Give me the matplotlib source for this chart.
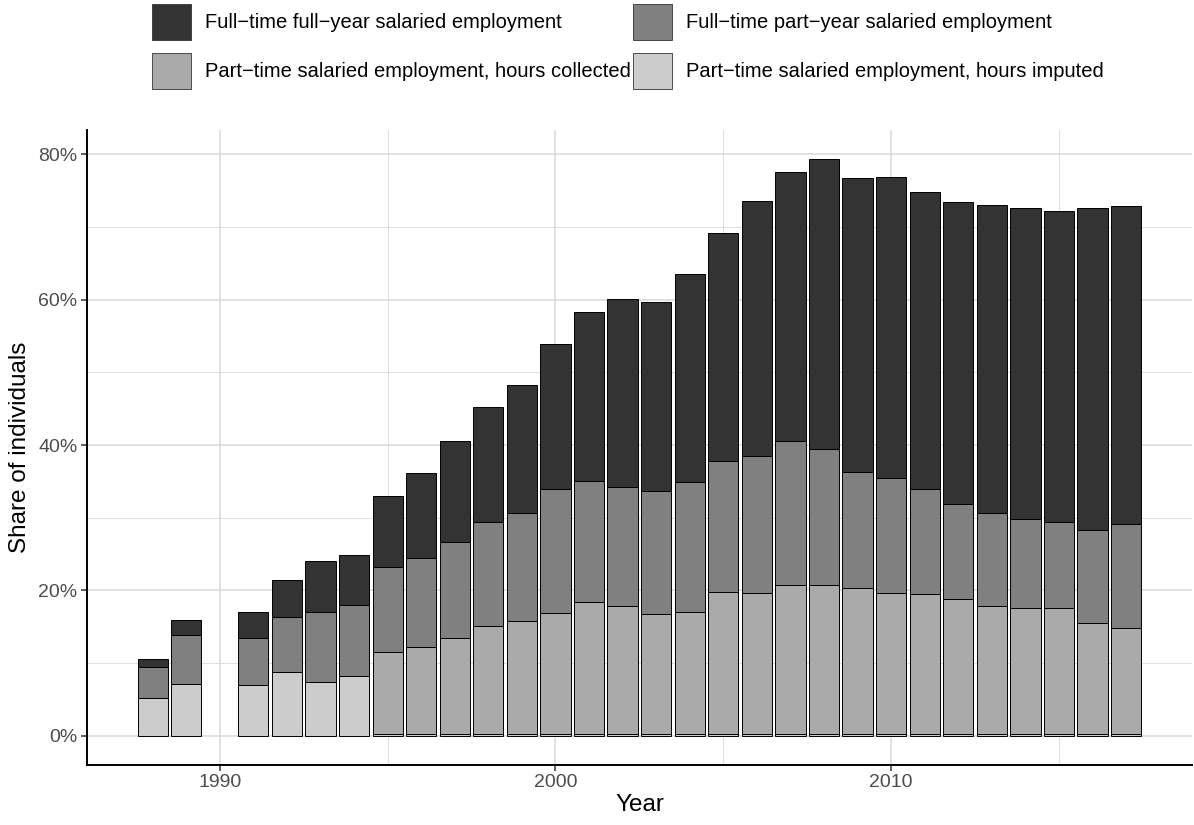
import matplotlib.pyplot as plt
import matplotlib.patches as mpatches
import numpy as np
from matplotlib.ticker import FixedLocator, PercentFormatter

plt.rcParams["font.family"] = ["Liberation Sans", "DejaVu Sans"]

years = [1988, 1989, 1991, 1992, 1993, 1994, 1995, 1996, 1997, 1998,
         1999, 2000, 2001, 2002, 2003, 2004, 2005, 2006, 2007, 2008,
         2009, 2010, 2011, 2012, 2013, 2014, 2015, 2016, 2017]

# shares (%) per layer
pt_imputed = [5.2, 7.1, 7.0, 8.8, 7.4, 8.3, 0.2, 0.2, 0.2, 0.2,
              0.2, 0.2, 0.2, 0.2, 0.2, 0.2, 0.2, 0.2, 0.2, 0.2,
              0.2, 0.2, 0.2, 0.2, 0.2, 0.2, 0.2, 0.2, 0.2]
pt_collected = [0.0, 0.0, 0.0, 0.0, 0.0, 0.0, 11.4, 12.0, 13.3, 14.9,
                15.6, 16.7, 18.2, 17.6, 16.5, 16.9, 19.6, 19.5, 20.5, 20.6,
                20.1, 19.5, 19.3, 18.6, 17.6, 17.4, 17.4, 15.3, 14.6]
ft_part_year = [4.3, 6.8, 6.5, 7.5, 9.6, 9.7, 11.6, 12.3, 13.2, 14.3,
                14.8, 17.1, 16.7, 16.5, 17.0, 17.8, 18.0, 18.8, 19.8, 18.7,
                16.0, 15.8, 14.5, 13.1, 12.8, 12.3, 11.8, 12.8, 14.3]
ft_full_year = [1.1, 2.1, 3.6, 5.1, 7.1, 6.9, 9.8, 11.6, 13.9, 15.8,
                17.6, 19.9, 23.2, 25.8, 26.0, 28.6, 31.3, 35.1, 37.1, 39.9,
                40.5, 41.4, 40.8, 41.5, 42.4, 42.7, 42.8, 44.3, 43.8]

labels = ["Part\u2212time salaried employment, hours imputed",
          "Part\u2212time salaried employment, hours collected",
          "Full\u2212time part\u2212year salaried employment",
          "Full\u2212time full\u2212year salaried employment"]
colors = ["#cccccc", "#aaaaaa", "#808080", "#333333"]

fig = plt.figure(figsize=(11.94, 8.25), dpi=100)
ax = fig.add_axes([0.073, 0.073, 0.925, 0.77])

layers = [pt_imputed, pt_collected, ft_part_year, ft_full_year]
bottom = np.zeros(len(years))
for vals, col, lab in zip(layers, colors, labels):
    ax.bar(years, vals, width=0.9, bottom=bottom, color=col,
           edgecolor="black", linewidth=0.7, label=lab, zorder=3)
    bottom += np.array(vals)

ax.set_xlim(1986.05, 2018.95)
ax.set_ylim(-3.97, 83.4)
ax.yaxis.set_major_locator(FixedLocator([0, 20, 40, 60, 80]))
ax.yaxis.set_minor_locator(FixedLocator([10, 30, 50, 70]))
ax.yaxis.set_major_formatter(PercentFormatter(decimals=0))
ax.xaxis.set_major_locator(FixedLocator([1990, 2000, 2010]))
ax.xaxis.set_minor_locator(FixedLocator([1995, 2005, 2015]))

ax.grid(which="major", color="#d9d9d9", linewidth=1.1, zorder=0)
ax.grid(which="minor", color="#d9d9d9", linewidth=0.6, zorder=0)
for s in ["top", "right"]:
    ax.spines[s].set_visible(False)
for s in ["left", "bottom"]:
    ax.spines[s].set_linewidth(1.4)
ax.tick_params(which="major", length=4, width=1.1, color="#333333",
               labelsize=14, labelcolor="#4d4d4d", pad=3)
ax.tick_params(which="minor", length=0)

ax.set_xlabel("Year", fontsize=17.5, labelpad=2)
ax.set_ylabel("Share of individuals", fontsize=17.5, labelpad=5)

handles = [mpatches.Patch(facecolor=c, edgecolor="#333333", linewidth=0.6) for c in colors]
order = [3, 1, 2, 0]
fig.legend([handles[i] for i in order], [labels[i] for i in order],
           ncol=2, loc="upper center", bbox_to_anchor=(0.526, 1.012),
           frameon=False, fontsize=14.5, handlelength=1.95, handleheight=2.35,
           handletextpad=0.7, columnspacing=0.1, labelspacing=0.65,
           borderpad=0.2)

fig.savefig("out.png", dpi=100)
